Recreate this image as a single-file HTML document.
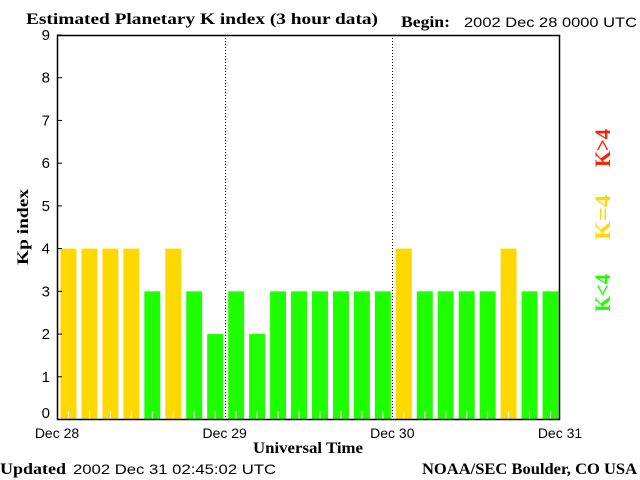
<!DOCTYPE html>
<html><head><meta charset="utf-8"><style>
body{margin:0;background:#fff;width:640px;height:480px;overflow:hidden}
svg{display:block}
.s{font-family:"Liberation Serif",serif;font-weight:bold;font-size:16px}
.n{font-family:"Liberation Sans",sans-serif;font-size:14px}
.lg{font-family:"Liberation Serif",serif;font-weight:bold;font-size:22px}
</style></head><body>
<svg id="c" width="640" height="480" xmlns="http://www.w3.org/2000/svg">
<text class="s" x="26" y="24" textLength="352" lengthAdjust="spacingAndGlyphs">Estimated Planetary K index (3 hour data)</text>
<text class="s" x="401" y="27" textLength="49" lengthAdjust="spacingAndGlyphs">Begin:</text>
<text class="n" x="464" y="27" textLength="173" lengthAdjust="spacingAndGlyphs">2002 Dec 28 0000 UTC</text>
<text class="s" x="0" y="474" textLength="66" lengthAdjust="spacingAndGlyphs">Updated</text>
<text class="n" x="73" y="474" textLength="203" lengthAdjust="spacingAndGlyphs">2002 Dec 31 02:45:02 UTC</text>
<text class="s" x="422" y="474" textLength="215" lengthAdjust="spacingAndGlyphs">NOAA/SEC Boulder, CO USA</text>
<text class="s" x="253" y="453" textLength="110" lengthAdjust="spacingAndGlyphs">Universal Time</text>
<text class="s" transform="translate(28,265) rotate(-90)" textLength="76" lengthAdjust="spacingAndGlyphs">Kp index</text>
<text class="lg" transform="translate(610,167) rotate(-90)" textLength="38" lengthAdjust="spacingAndGlyphs" fill="#ff2000">K&gt;4</text>
<text class="lg" transform="translate(610,240) rotate(-90)" textLength="45" lengthAdjust="spacingAndGlyphs" fill="#ffd800">K=4</text>
<text class="lg" transform="translate(610,312) rotate(-90)" textLength="38" lengthAdjust="spacingAndGlyphs" fill="#1eff00">K&lt;4</text>
<g id="plot"></g>
</svg>
<script>
const kpValues=[4,4,4,4,3,4,3,2, 3,2,3,3,3,3,3,3, 4,3,3,3,3,4,3,3];
const yTicks=[0,1,2,3,4,5,6,7,8,9];
const dayLabels=["Dec 28","Dec 29","Dec 30","Dec 31"];
const X0=57,X1=560,Y0=419.5,YT=35;
const NS="http://www.w3.org/2000/svg";
const g=document.getElementById('plot');
const xs=i=>X0+(X1-X0)*i/kpValues.length;
const ys=v=>Y0-(Y0-YT)*v/9;
function mk(t,a){const e=document.createElementNS(NS,t);for(const k in a)e.setAttribute(k,a[k]);g.appendChild(e);return e;}
const slot=(X1-X0)/kpValues.length;
kpValues.forEach((v,i)=>{
 const col=v>4?'#ff2000':(v==4?'#ffd800':'#1eff00');
 const b=mk('rect',{x:xs(i)+3.5,y:ys(v),width:slot-5,height:Y0-ys(v),fill:col});
 
 
 const t=mk('line',{x1:xs(i)+3.5+(slot-5)/2,x2:xs(i)+3.5+(slot-5)/2,y1:Y0-8,y2:Y0,stroke:'#fff','stroke-width':1});
 
 
});
for(let d=1;d<dayLabels.length-1;d++){
 const x=Math.round(X0+(X1-X0)*d/(dayLabels.length-1))+0.5;
 const l=mk('line',{x1:x,x2:x,y1:YT,y2:Y0,stroke:'#000','stroke-dasharray':'1,2'});
 
 
}
const fr=mk('rect',{x:X0+0.5,y:YT+0.5,width:X1-X0-1,height:Y0-YT-0.5,fill:'none',stroke:'#000','stroke-width':1.5});


yTicks.forEach(v=>{
 const y=ys(v);
 const t=mk('line',{x1:X0,x2:X0+5,y1:y,y2:y,stroke:'#000'});
 
 
 const tx=mk('text',{x:50,y:Math.min(y+5,418),'text-anchor':'end',class:'n',style:'font-size:15px'});
 tx.textContent=v;
 
 
});
dayLabels.forEach((s,d)=>{
 const x=X0+(X1-X0)*d/(dayLabels.length-1);
 const tx=mk('text',{x:x,y:438,'text-anchor':'middle',class:'n'});
 tx.textContent=s;
 
 
});
</script>
</body></html>
